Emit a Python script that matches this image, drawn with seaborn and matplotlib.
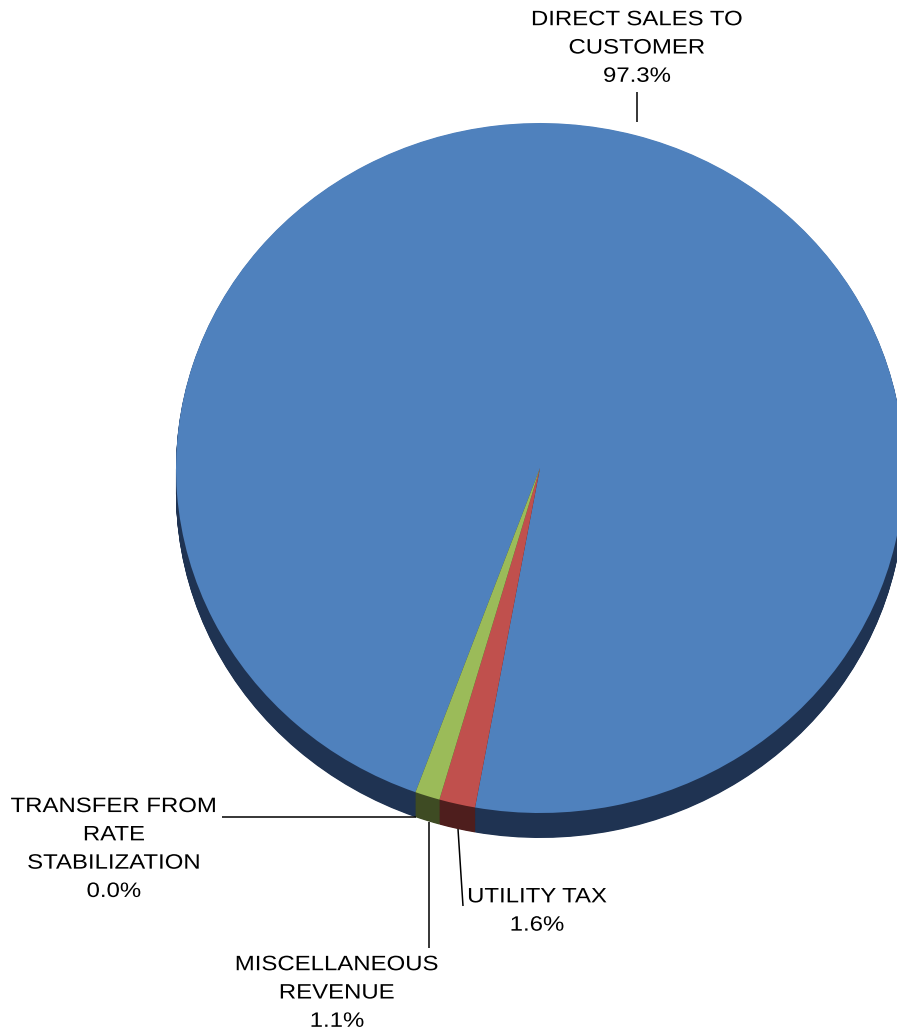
import matplotlib
matplotlib.use("Agg")
import matplotlib.pyplot as plt
import seaborn as sns
from matplotlib.patheffects import AbstractPathEffect
from matplotlib.transforms import Affine2D

# Revenue sources, in drawing order (clockwise from the start angle)
categories = ["DIRECT SALES TO\nCUSTOMER", "UTILITY TAX",
              "MISCELLANEOUS\nREVENUE", "TRANSFER FROM\nRATE\nSTABILIZATION"]
shares = [97.3, 1.6, 1.1, 0.0]
top_colors = ["#4F81BD", "#C0504D", "#9BBB59", "#8064A2"]
side_colors = ["#1F3352", "#4E1E1D", "#3E4B23", "#33283F"]

sns.set_theme(style="white")
plt.rcParams["font.family"] = ["Liberation Sans", "DejaVu Sans"]

W, H = 897, 1034
CX, CY = 540, 468          # pie centre in pixels
RX, RY = 364, 345          # ellipse half-axes in pixels (tilted disc)
DEPTH = 25                 # thickness of the disc in pixels


class WideText(AbstractPathEffect):
    """Widen each text line horizontally about its own centre."""

    def __init__(self, factor):
        super().__init__()
        self.factor = factor

    def draw_path(self, renderer, gc, tpath, affine, rgbFace=None):
        xs = tpath.vertices[:, 0]
        mid = 0.5 * (xs.min() + xs.max()) if len(xs) else 0.0
        stretch = Affine2D().translate(-mid, 0).scale(self.factor, 1).translate(mid, 0)
        renderer.draw_path(gc, tpath, stretch + affine, rgbFace)


def px(x, y):
    """Pixel position -> data position (unit pie radius)."""
    return (x - CX) / RX, (CY - y) / RY


fig = plt.figure(figsize=(W / 100, H / 100), dpi=100)
ax = fig.add_axes([0, 0, 1, 1])

start = 250
# extruded side of the disc: stacked copies shifted downwards
n_layers = 40
for i in range(n_layers, 0, -1):
    off = DEPTH / RY * i / n_layers
    ax.pie(shares, colors=side_colors, startangle=start, counterclock=False,
           radius=1.0, center=(0, -off),
           wedgeprops=dict(linewidth=0, antialiased=True), frame=True)

# top face
ax.pie(shares, colors=top_colors, startangle=start, counterclock=False,
       radius=1.0, center=(0, 0),
       wedgeprops=dict(linewidth=0, antialiased=True), frame=True)

ax.set_aspect("auto")
ax.set_xlim(px(0, 0)[0], px(W, 0)[0])
ax.set_ylim(px(0, H)[1], px(0, 0)[1])
ax.axis("off")

# labels and leader lines
label_pos = [(637, 48), (537, 911), (337, 993), (114, 849)]
leaders = [((637, 92), (637, 122)),
           ((463, 906), (458, 829)),
           ((429, 948), (429, 822)),
           ((222, 817), (416, 817))]

for cat, val, (tx, ty), (p0, p1) in zip(categories, shares, label_pos, leaders):
    x0, y0 = px(*p0)
    x1, y1 = px(*p1)
    ax.plot([x0, x1], [y0, y1], color="black", lw=1.1, solid_capstyle="butt")
    lx, ly = px(tx, ty)
    ax.text(lx, ly, f"{cat}\n{val:.1f}%", ha="center", va="center",
            fontsize=15, linespacing=1.62, color="black",
            path_effects=[WideText(1.15)])

fig.savefig("out.png", dpi=100)
